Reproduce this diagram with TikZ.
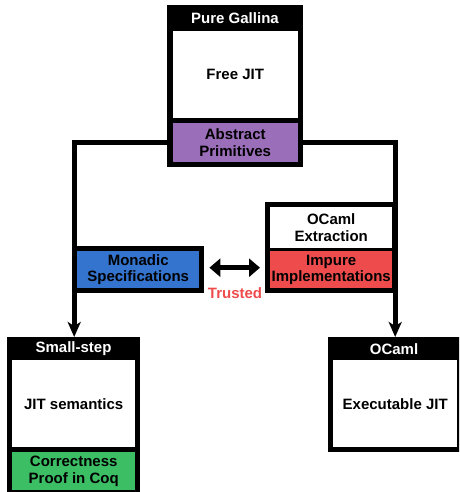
\documentclass[tikz,border=0pt]{standalone}
\usepackage{fontspec}
\setmainfont{Liberation Sans}
\usetikzlibrary{arrows.meta}
\definecolor{primpurple}{RGB}{155,110,185}
\definecolor{specblue}{RGB}{53,116,206}
\definecolor{implred}{RGB}{238,76,76}
\definecolor{proofgreen}{RGB}{60,190,100}
\tikzset{
  frame/.style={fill=black, draw=none, inner sep=0pt, anchor=north west},
  panel/.style={draw=none, inner sep=0pt, anchor=north west, align=center,
    font=\fontsize{15}{16.5}\selectfont\bfseries, text=black},
  headtext/.style={text=white, inner sep=0pt, font=\fontsize{15}{16.5}\selectfont\bfseries},
  conn/.style={line width=5pt, draw=black},
  tipdown/.style={-{Stealth[length=15pt,width=13pt,inset=4pt]}},
  trustarrow/.style={line width=5pt, {Triangle[length=11pt,width=18pt]}-{Triangle[length=11pt,width=18pt]}},
}
\begin{document}
\begin{tikzpicture}[x=1pt,y=-1pt]
\useasboundingbox (0,0) rectangle (459,492);
\clip (0,0) rectangle (459,492);

% top block: Pure Gallina
\node[frame, minimum width=136pt, minimum height=162pt] (gallina) at (167,5) {};
\node[headtext] (gallinahead) at (235,18) {Pure Gallina};
\node[panel, fill=white, minimum width=125pt, minimum height=87pt] (freejit) at (172.5,31) {Free JIT};
\node[panel, fill=primpurple, minimum width=125pt, minimum height=39pt] (prims) at (172.5,123) {Abstract\\Primitives};

% bottom-left block: Small-step
\node[frame, minimum width=133pt, minimum height=160pt] (small) at (7,337) {};
\node[headtext] (smallhead) at (73.5,349) {Small-step};
\node[panel, fill=white, minimum width=123pt, minimum height=87pt] (jitsem) at (12,360) {JIT semantics};
\node[panel, fill=proofgreen, minimum width=123pt, minimum height=38pt] (proof) at (12,452) {Correctness\\Proof in Coq};

% bottom-right block: OCaml
\node[frame, minimum width=134pt, minimum height=115pt] (ocaml) at (328,337) {};
\node[headtext] (ocamlhead) at (394,349) {OCaml};
\node[panel, fill=white, minimum width=124pt, minimum height=87pt] (execjit) at (333,360) {Executable JIT};

% connectors from the primitives down to the two targets
\draw[conn, tipdown] (gallina.west |- prims.west) -| ([xshift=0.5pt]small.north);
\draw[conn, tipdown] (gallina.east |- prims.east) -| ([xshift=0pt]ocaml.north);

% monadic specifications
\node[frame, minimum width=132pt, minimum height=47pt] (mono) at (72,246) {};
\node[panel, fill=specblue, minimum width=122pt, minimum height=37pt] (spec) at (77,251) {Monadic\\Specifications};

% OCaml extraction with impure implementations
\node[frame, minimum width=132pt, minimum height=91pt] (extr) at (265,202) {};
\node[panel, fill=white, minimum width=122pt, minimum height=41pt] (extrtext) at (270,207) {OCaml\\Extraction};
\node[panel, fill=implred, minimum width=122pt, minimum height=37pt] (impl) at (270,251) {Impure\\Implementations};

% trusted link
\coordinate (tl) at ([xshift=5pt,yshift=2pt]mono.east);
\coordinate (tr) at ([xshift=-5pt]extr.west |- tl);
\draw[trustarrow] (tl) -- (tr);
\node[inner sep=0pt, text=implred, font=\fontsize{15}{16.5}\selectfont\bfseries] (trusted) at (235,293) {Trusted};
\end{tikzpicture}
\end{document}
